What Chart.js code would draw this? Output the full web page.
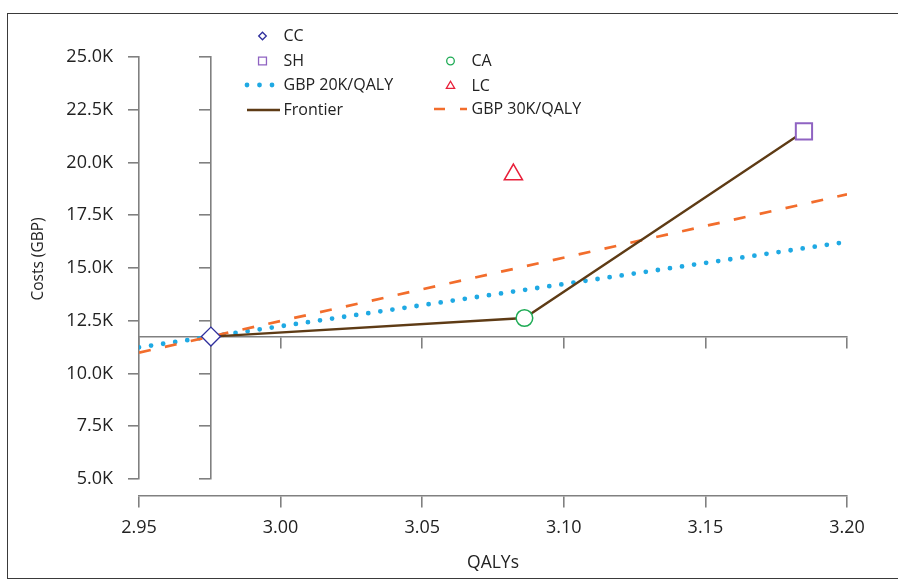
<!DOCTYPE html>
<html lang="en">
<head>
    <meta charset="UTF-8">
    <title>Cost-effectiveness plane</title>
    <style>
        html, body { margin: 0; padding: 0; background: #fff; overflow: hidden; }
        .frame {
            position: absolute;
            left: 7px;
            top: 13px;
            width: 891px;
            height: 566px;
            border: 1.5px solid #3a3a3a;
            border-right: none;
            box-sizing: border-box;
        }
        .chart-box {
            position: absolute;
            left: 0;
            top: 0;
            width: 898px;
            height: 584px;
        }
    </style>
    <script src="https://cdn.jsdelivr.net/npm/chart.js@4.4.1/dist/chart.umd.min.js"></script>
</head>
<body>
<div class="frame"></div>
<div class="chart-box">
    <canvas id="cePlane"></canvas>
</div>

<script>
    // Strategies (QALYs, costs in GBP)
    const strategies = ['CC', 'SH', 'CA', 'LC'];
    const qalys = [2.9754, 3.1848, 3.0861, 3.0822];
    const costs = [11750, 21470, 12630, 19430];

    // Efficiency frontier: CC -> CA -> SH
    const frontierQalys = [2.9754, 3.0861, 3.1848];
    const frontierCosts = [11750, 12630, 21470];

    // Willingness-to-pay lines through CC
    const wtp20Qalys = [2.95, 3.20];
    const wtp20Costs = [11240, 16240];
    const wtp30Qalys = [2.95, 3.20];
    const wtp30Costs = [10990, 18490];

    // Axis ranges
    const qalyMin = 2.95, qalyMax = 3.20, qalyStep = 0.05;
    const costMin = 5000, costMax = 25000, costStep = 2500;

    const toPoints = (xs, ys) => xs.map((x, i) => ({ x: x, y: ys[i] }));

    const markerStyles = {
        CC: { pointStyle: 'rectRot', radius: 9.5, color: '#2f2f9c', width: 1.3 },
        SH: { pointStyle: 'rect', radius: 11.5, color: '#8f63c2', width: 2 },
        CA: { pointStyle: 'circle', radius: 8.3, color: '#1eab55', width: 1.5 },
        LC: { pointStyle: 'triangle', radius: 10.5, color: '#e8203a', width: 1.5 }
    };

    const axisGrey = '#808080';
    const textColor = '#222222';

    Chart.defaults.font.family = "'Open Sans', sans-serif";
    Chart.defaults.color = textColor;

    const markerSets = strategies.map((name, i) => ({
        label: name,
        data: [{ x: qalys[i], y: costs[i] }],
        showLine: false,
        pointStyle: markerStyles[name].pointStyle,
        pointRadius: markerStyles[name].radius,
        pointHoverRadius: markerStyles[name].radius,
        pointBorderColor: markerStyles[name].color,
        pointBorderWidth: markerStyles[name].width,
        pointBackgroundColor: '#ffffff'
    }));

    const lineSets = [
        {
            label: 'Frontier',
            data: toPoints(frontierQalys, frontierCosts),
            showLine: true,
            borderColor: '#5e3b15',
            borderWidth: 2.3,
            pointRadius: 0
        },
        {
            label: 'GBP 30K/QALY',
            data: toPoints(wtp30Qalys, wtp30Costs),
            showLine: true,
            borderColor: '#f26d2c',
            borderWidth: 2.7,
            borderDash: [12, 14.5],
            pointRadius: 0
        },
        {
            label: 'GBP 20K/QALY',
            data: toPoints(wtp20Qalys, wtp20Costs),
            showLine: true,
            borderColor: '#1fa9e3',
            borderWidth: 4.8,
            borderDash: [0, 12.2],
            borderCapStyle: 'round',
            pointRadius: 0
        }
    ];

    // Legend laid out like the original: two columns
    const legendItems = [
        { label: 'CC', kind: 'marker', x: 262.5, y: 36 },
        { label: 'SH', kind: 'marker', x: 262.5, y: 61 },
        { label: 'GBP 20K/QALY', kind: 'line', x: 247, x2: 273, y: 85 },
        { label: 'Frontier', kind: 'line', x: 247, x2: 280, y: 110 },
        { label: 'CA', kind: 'marker', x: 450.5, y: 61 },
        { label: 'LC', kind: 'marker', x: 450.5, y: 86 },
        { label: 'GBP 30K/QALY', kind: 'line', x: 434, x2: 467, y: 109 }
    ];
    const legendSmall = { CC: 3.8, SH: 5.6, CA: 3.8, LC: 4.8 };

    const customLegend = {
        id: 'customLegend',
        afterDraw(chart) {
            const ctx = chart.ctx;
            const sets = chart.data.datasets;
            const area = chart.chartArea;
            ctx.save();
            legendItems.forEach(item => {
                const ds = sets.find(d => d.label === item.label);
                if (item.kind === 'marker') {
                    ctx.fillStyle = '#ffffff';
                    ctx.strokeStyle = ds.pointBorderColor;
                    ctx.lineWidth = 1.3;
                    ctx.setLineDash([]);
                    Chart.helpers.drawPoint(ctx, {
                        pointStyle: ds.pointStyle,
                        radius: legendSmall[item.label],
                        rotation: 0,
                        borderWidth: 1.3
                    }, item.x, item.y);
                } else {
                    ctx.strokeStyle = ds.borderColor;
                    ctx.lineWidth = ds.borderWidth;
                    ctx.lineCap = ds.borderCapStyle || 'butt';
                    ctx.setLineDash(ds.borderDash ? (ds.borderDash[0] === 0 ? [0, 12.5] : [11, 15]) : []);
                    ctx.beginPath();
                    ctx.moveTo(item.x, item.y);
                    ctx.lineTo(item.x2, item.y);
                    ctx.stroke();
                }
                ctx.setLineDash([]);
                ctx.fillStyle = textColor;
                ctx.font = "16px 'Open Sans', sans-serif";
                ctx.textAlign = 'left';
                ctx.textBaseline = 'middle';
                ctx.fillText(item.label, item.x < 350 ? 283.5 : 471.5, item.y);
            });

            // y-axis title, sitting a little above the middle as in the original
            ctx.translate(39, (area.top + area.bottom) / 2 - 9);
            ctx.rotate(-Math.PI / 2);
            ctx.font = "15.5px 'Open Sans', sans-serif";
            ctx.textAlign = 'center';
            ctx.textBaseline = 'middle';
            ctx.fillText('Costs (GBP)', 0, 0);
            ctx.restore();
        }
    };

    const ctxPlane = document.getElementById('cePlane').getContext('2d');
    new Chart(ctxPlane, {
        type: 'scatter',
        data: { datasets: markerSets.concat(lineSets) },
        options: {
            responsive: true,
            maintainAspectRatio: false,
            animation: false,
            layout: { padding: { left: 7, top: 57, right: 51, bottom: 105 } },
            plugins: {
                legend: { display: false },
                tooltip: { enabled: false }
            },
            scales: {
                x: {
                    type: 'linear',
                    position: { y: 4200 },
                    min: qalyMin,
                    max: qalyMax,
                    border: { display: true, color: axisGrey, width: 1.6 },
                    grid: { drawOnChartArea: false, drawTicks: true, tickLength: 11, color: axisGrey, lineWidth: 1.6 },
                    ticks: {
                        stepSize: qalyStep,
                        padding: 10,
                        font: { size: 18 },
                        color: textColor,
                        maxRotation: 0,
                        callback: v => Number(v).toFixed(2)
                    },
                    title: { display: true, text: 'QALYs', font: { size: 17.5 }, color: textColor, padding: { top: 4, bottom: 0 } }
                },
                x2: {
                    axis: 'x',
                    type: 'linear',
                    position: { y: costs[0] },
                    min: qalyMin,
                    max: qalyMax,
                    border: { display: true, color: axisGrey, width: 1.6 },
                    grid: { drawOnChartArea: false, drawTicks: true, tickLength: 11, color: axisGrey, lineWidth: 1.6 },
                    ticks: { stepSize: qalyStep, display: false }
                },
                y: {
                    type: 'linear',
                    position: 'left',
                    min: costMin,
                    max: costMax,
                    afterFit: s => { s.width = 132; },
                    border: { display: true, color: axisGrey, width: 1.6 },
                    grid: { drawOnChartArea: false, drawTicks: true, tickLength: 11, color: axisGrey, lineWidth: 1.6 },
                    ticks: {
                        stepSize: costStep,
                        padding: 15,
                        font: { size: 18 },
                        color: textColor,
                        callback: v => (v / 1000).toFixed(1) + 'K'
                    }
                },
                y2: {
                    axis: 'y',
                    type: 'linear',
                    position: { x: qalys[0] },
                    min: costMin,
                    max: costMax,
                    border: { display: true, color: axisGrey, width: 1.6 },
                    grid: { drawOnChartArea: false, drawTicks: true, tickLength: 11, color: axisGrey, lineWidth: 1.6 },
                    ticks: { stepSize: costStep, display: false }
                }
            }
        },
        plugins: [customLegend]
    });
</script>
</body>
</html>
